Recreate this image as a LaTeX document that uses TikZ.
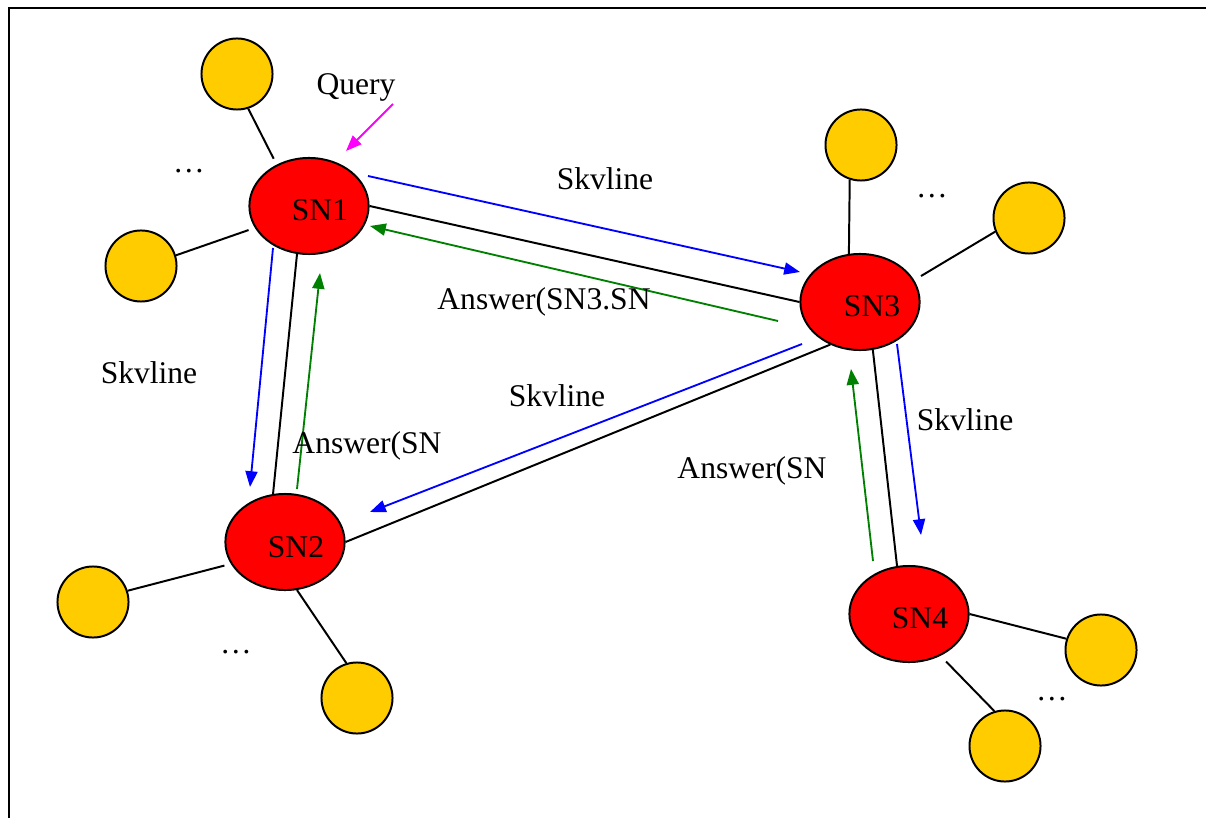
\documentclass[tikz,border=0pt]{standalone}
\usepackage{fontspec}
\setmainfont{Liberation Serif}
\usetikzlibrary{arrows.meta,shapes.geometric}

\definecolor{snred}{RGB}{255,0,0}
\definecolor{peeryel}{RGB}{255,204,0}
\definecolor{skyblue}{RGB}{0,0,255}
\definecolor{ansgreen}{RGB}{0,128,0}
\definecolor{qmag}{RGB}{255,0,255}

\begin{document}
\begin{tikzpicture}[x=0.38pt, y=-0.38pt, font=\fontsize{12}{14}\selectfont,
    sn/.style={draw, ellipse, fill=snred, minimum width=45.3pt, minimum height=36.5pt, inner sep=0pt, line width=0.75pt},
    peer/.style={draw, circle, fill=peeryel, minimum size=27pt, inner sep=0pt, line width=0.75pt},
    link/.style={line width=0.75pt},
    sky/.style={skyblue, line width=0.7pt, -{Triangle[length=6pt,width=4.6pt]}},
    ans/.style={ansgreen, line width=0.7pt, -{Triangle[length=6pt,width=4.6pt]}},
    qry/.style={qmag, line width=0.7pt, -{Triangle[length=6pt,width=4.6pt]}},
    lbl/.style={anchor=base, inner sep=0pt}]
    \useasboundingbox (0,0) rectangle (1206,818);
    \draw[line width=0.9pt] (9,818) -- (9,8) -- (1206,8);

    % super nodes
    \node[sn] (sn1) at (309,206) {};
    \node[sn] (sn2) at (285,542) {};
    \node[sn] (sn3) at (860,302) {};
    \node[sn] (sn4) at (909,614) {};
    \node[lbl] (sn1t) at (320,221) {SN1};
    \node[lbl] (sn2t) at (296,557) {SN2};
    \node[lbl] (sn3t) at (872,317) {SN3};
    \node[lbl] (sn4t) at (920,628) {SN4};

    % peers
    \node[peer] (p1a) at (237,74) {};
    \node[peer] (p1b) at (141,266) {};
    \node[peer] (p2a) at (93,602) {};
    \node[peer] (p2b) at (357,698) {};
    \node[peer] (p3a) at (861,145) {};
    \node[peer] (p3b) at (1029,218) {};
    \node[peer] (p4a) at (1101,650) {};
    \node[peer] (p4b) at (1005,746) {};
    \draw[link, shorten >=2.5pt] (p1a.-72) -- (sn1.128);
    \draw[link, shorten >=2.5pt] (p1b.17) -- (sn1.-158);
    \draw[link, shorten >=2.5pt] (p2a.18) -- (sn2.-158);
    \draw[link] (p2b.107) -- (sn2.-76);
    \draw[link] (p3a.-108) -- (sn3.103);
    \draw[link, shorten >=3pt] (p3b.-158) -- (sn3.22);
    \draw[link] (p4a.162) -- (sn4.east);
    \draw[link, shorten >=3pt] (p4b.107) -- (sn4.-53);
    \node[lbl] (d1) at (189,173) {…};
    \node[lbl] (d2) at (236,653) {…};
    \node[lbl] (d3) at (932,198) {…};
    \node[lbl] (d4) at (1052,700) {…};

    % backbone
    \draw[link] (sn1.east) -- (sn3.west);
    \draw[link] (sn1.-104) -- (sn2.104);
    \draw[link] (sn2.east) -- (sn3.-125);
    \draw[link] (sn3.-75) -- (sn4.104);

    % messages
    \coordinate (q0) at (393,104);
    \coordinate (q1) at (346,151);
    \coordinate (s13a) at (368,176);
    \coordinate (s13b) at (800,272);
    \coordinate (a31a) at (778,321);
    \coordinate (a31b) at (370,226);
    \coordinate (s12a) at (273,248);
    \coordinate (s12b) at (250,487);
    \coordinate (a21a) at (297,489);
    \coordinate (a21b) at (320,273);
    \coordinate (s32a) at (802,344);
    \coordinate (s32b) at (370,512);
    \coordinate (s34a) at (897,344);
    \coordinate (s34b) at (921,535);
    \coordinate (a43a) at (873,561);
    \coordinate (a43b) at (851,369);
    \draw[qry] (q0) -- (q1);
    \draw[sky] (s13a) -- (s13b);
    \draw[ans] (a31a) -- (a31b);
    \draw[sky] (s12a) -- (s12b);
    \draw[ans] (a21a) -- (a21b);
    \draw[sky] (s32a) -- (s32b);
    \draw[sky] (s34a) -- (s34b);
    \draw[ans] (a43a) -- (a43b);

    \node[lbl] (tq) at (356,95) {Query};
    \node[lbl] (t13) at (605,190) {Skvline};
    \node[lbl] (t31) at (544,310) {Answer(SN3.SN};
    \node[lbl] (t12) at (149,383) {Skvline};
    \node[lbl] (t21) at (367,453) {Answer(SN};
    \node[lbl] (t32) at (557,406) {Skvline};
    \node[lbl] (t43) at (752,478) {Answer(SN};
    \node[lbl] (t34) at (965,430) {Skvline};
\end{tikzpicture}
\end{document}
